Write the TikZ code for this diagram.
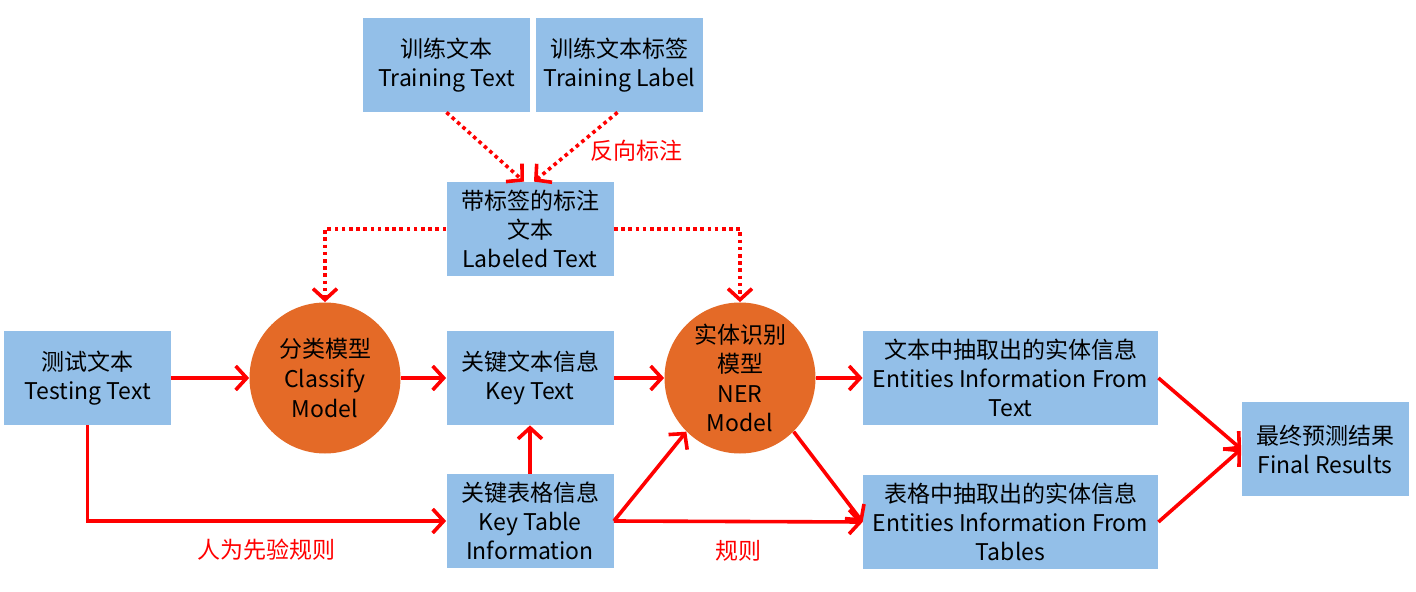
\documentclass[tikz,border=0pt]{standalone}
\usepackage{fontspec}
\setmainfont{Noto Sans CJK SC}
\usepackage{tikz}
\usetikzlibrary{arrows.meta, calc, positioning}
\definecolor{boxblue}{HTML}{93BFE8}
\definecolor{modelorange}{HTML}{E46A27}
\definecolor{linered}{HTML}{FF0000}
\tikzset{
    box/.style = {rectangle, fill=boxblue, minimum width=83.5pt, minimum height=47pt, inner sep=1pt, align=center, font=\fontsize{11.5}{14.5}\selectfont}, % blue data box
    widebox/.style = {box, minimum width=147.5pt},
    model/.style = {circle, fill=modelorange, minimum size=75.5pt, inner sep=0pt, align=center, font=\fontsize{11.5}{14.8}\selectfont}, % orange model circle
    flow/.style = {draw=linered, line width=1.8pt, -{Straight Barb[length=5.5pt, width=12pt, line width=1.8pt]}},
    dotflow/.style = {flow, dash pattern=on 1.8pt off 1.8pt},
    note/.style = {text=linered, font=\fontsize{11.5}{14}\selectfont}
}

\begin{document}
\begin{tikzpicture}[x=0.5pt, y=-0.5pt]
    \useasboundingbox (0,0) rectangle (1416,592);
    % nodes
    \node [box] (train) at (446.5,65) {训练文本\\Training Text};
    \node [box] (trlabel) at (619.5,65) {训练文本标签\\Training Label};
    \node [box] (labeled) at (530,229) {带标签的标注\\文本\\Labeled Text};
    \node [box] (test) at (87.5,378) {测试文本\\Testing Text};
    \node [model] (classify) at (325,378) {分类模型\\Classify\\Model};
    \node [box] (keytext) at (530,378) {关键文本信息\\Key Text};
    \node [model] (ner) at (740,378) {实体识别\\模型\\NER\\Model};
    \node [widebox] (enttext) at (1010.5,378) {文本中抽取出的实体信息\\Entities Information From\\Text};
    \node [box] (keytable) at (530,521) {关键表格信息\\Key Table\\Information};
    \node [widebox] (enttable) at (1010.5,522) {表格中抽取出的实体信息\\Entities Information From\\Tables};
    \node [box] (final) at (1325,449) {最终预测结果\\Final Results};

    % dotted flows
    \draw [dotflow] (train.south) -- ($(labeled.north)+(-6,0)$);
    \draw [dotflow] ($(trlabel.south)+(-2,0)$) -- ($(labeled.north)+(4,0)$)
        node [note, pos=0.55, right=5pt] (reverse) {反向标注};
    \draw [dotflow] (labeled.west) -| (classify.north);
    \draw [dotflow] (labeled.east) -| (ner.north);

    % solid flows
    \draw [flow] (test) -- (classify);
    \draw [flow] (classify) -- (keytext);
    \draw [flow] (keytext) -- (ner);
    \draw [flow] (ner) -- (enttext);
    \draw [flow] (test.south) |- (keytable.west)
        node [note, pos=0.75, below=5pt] (prior) {人为先验规则};
    \draw [flow] (keytable) -- (keytext);
    \draw [flow] (keytable.east) -- (ner.225);
    \draw [flow] (keytable.east) -- (enttable.west)
        node [note, midway, below=5pt] (rule) {规则};
    \draw [flow] (ner.-45) -- (enttable.west);
    \draw [flow] (enttext.east) -- (final.west);
    \draw [flow] (enttable.east) -- (final.west);
\end{tikzpicture}
\end{document}
